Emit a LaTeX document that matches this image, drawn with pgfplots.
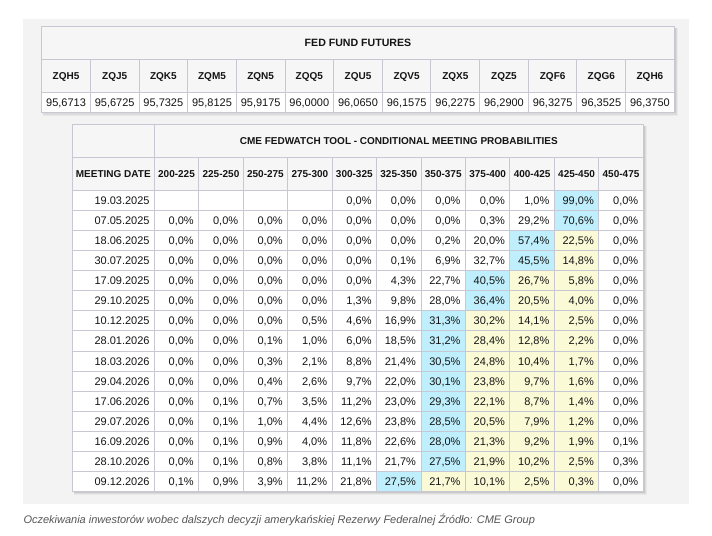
\documentclass[border=0pt]{standalone}
\usepackage{pgfplots}
\pgfplotsset{compat=1.18}
\usepackage{pgfplotstable}
\usepackage{fontspec}
\setmainfont{Liberation Sans}
\definecolor{pagebg}{RGB}{243,243,243}
\definecolor{hdrbg}{RGB}{246,246,246}
\definecolor{gridc}{RGB}{200,200,212}
\definecolor{cellblue}{RGB}{191,239,252}
\definecolor{cellyel}{RGB}{250,250,214}
\definecolor{txt}{RGB}{20,20,20}
\definecolor{capc}{RGB}{85,85,85}
\tikzset{
  gl/.style={draw=gridc, line width=1bp},
  hdr/.style={font=\fontsize{10bp}{12bp}\selectfont\bfseries, text=txt, inner sep=0pt, anchor=base},
  dat/.style={font=\fontsize{11bp}{13bp}\selectfont, text=txt, inner sep=0pt},
}

\pgfplotstableread{
c code v
0 ZQH5 95.6713
1 ZQJ5 95.6725
2 ZQK5 95.7325
3 ZQM5 95.8125
4 ZQN5 95.9175
5 ZQQ5 96.0000
6 ZQU5 96.0650
7 ZQV5 96.1575
8 ZQX5 96.2275
9 ZQZ5 96.2900
10 ZQF6 96.3275
11 ZQG6 96.3525
12 ZQH6 96.3750
}\futures

\pgfplotstableread{
c lbl
0 200-225
1 225-250
2 250-275
3 275-300
4 300-325
5 325-350
6 350-375
7 375-400
8 400-425
9 425-450
10 450-475
}\ranges

\pgfplotstableread{
r d
0 19.03.2025
1 07.05.2025
2 18.06.2025
3 30.07.2025
4 17.09.2025
5 29.10.2025
6 10.12.2025
7 28.01.2026
8 18.03.2026
9 29.04.2026
10 17.06.2026
11 29.07.2026
12 16.09.2026
13 28.10.2026
14 09.12.2026
}\dates

% c = rate column, r = meeting row, v = probability (%), k = cell class (0 white, 1 yellow, 2 blue)
\pgfplotstableread[row sep=\\]{
c r v k \\
0 0 0 0 \\ 1 0 0 0 \\ 2 0 0 0 \\ 3 0 0 0 \\ 4 0 0.0 0 \\ 5 0 0.0 0 \\ 6 0 0.0 0 \\ 7 0 0.0 0 \\ 8 0 1.0 0 \\ 9 0 99.0 2 \\ 10 0 0.0 0 \\
0 1 0.0 0 \\ 1 1 0.0 0 \\ 2 1 0.0 0 \\ 3 1 0.0 0 \\ 4 1 0.0 0 \\ 5 1 0.0 0 \\ 6 1 0.0 0 \\ 7 1 0.3 0 \\ 8 1 29.2 0 \\ 9 1 70.6 2 \\ 10 1 0.0 0 \\
0 2 0.0 0 \\ 1 2 0.0 0 \\ 2 2 0.0 0 \\ 3 2 0.0 0 \\ 4 2 0.0 0 \\ 5 2 0.0 0 \\ 6 2 0.2 0 \\ 7 2 20.0 0 \\ 8 2 57.4 2 \\ 9 2 22.5 1 \\ 10 2 0.0 0 \\
0 3 0.0 0 \\ 1 3 0.0 0 \\ 2 3 0.0 0 \\ 3 3 0.0 0 \\ 4 3 0.0 0 \\ 5 3 0.1 0 \\ 6 3 6.9 0 \\ 7 3 32.7 0 \\ 8 3 45.5 2 \\ 9 3 14.8 1 \\ 10 3 0.0 0 \\
0 4 0.0 0 \\ 1 4 0.0 0 \\ 2 4 0.0 0 \\ 3 4 0.0 0 \\ 4 4 0.0 0 \\ 5 4 4.3 0 \\ 6 4 22.7 0 \\ 7 4 40.5 2 \\ 8 4 26.7 1 \\ 9 4 5.8 1 \\ 10 4 0.0 0 \\
0 5 0.0 0 \\ 1 5 0.0 0 \\ 2 5 0.0 0 \\ 3 5 0.0 0 \\ 4 5 1.3 0 \\ 5 5 9.8 0 \\ 6 5 28.0 0 \\ 7 5 36.4 2 \\ 8 5 20.5 1 \\ 9 5 4.0 1 \\ 10 5 0.0 0 \\
0 6 0.0 0 \\ 1 6 0.0 0 \\ 2 6 0.0 0 \\ 3 6 0.5 0 \\ 4 6 4.6 0 \\ 5 6 16.9 0 \\ 6 6 31.3 2 \\ 7 6 30.2 1 \\ 8 6 14.1 1 \\ 9 6 2.5 1 \\ 10 6 0.0 0 \\
0 7 0.0 0 \\ 1 7 0.0 0 \\ 2 7 0.1 0 \\ 3 7 1.0 0 \\ 4 7 6.0 0 \\ 5 7 18.5 0 \\ 6 7 31.2 2 \\ 7 7 28.4 1 \\ 8 7 12.8 1 \\ 9 7 2.2 1 \\ 10 7 0.0 0 \\
0 8 0.0 0 \\ 1 8 0.0 0 \\ 2 8 0.3 0 \\ 3 8 2.1 0 \\ 4 8 8.8 0 \\ 5 8 21.4 0 \\ 6 8 30.5 2 \\ 7 8 24.8 1 \\ 8 8 10.4 1 \\ 9 8 1.7 1 \\ 10 8 0.0 0 \\
0 9 0.0 0 \\ 1 9 0.0 0 \\ 2 9 0.4 0 \\ 3 9 2.6 0 \\ 4 9 9.7 0 \\ 5 9 22.0 0 \\ 6 9 30.1 2 \\ 7 9 23.8 1 \\ 8 9 9.7 1 \\ 9 9 1.6 1 \\ 10 9 0.0 0 \\
0 10 0.0 0 \\ 1 10 0.1 0 \\ 2 10 0.7 0 \\ 3 10 3.5 0 \\ 4 10 11.2 0 \\ 5 10 23.0 0 \\ 6 10 29.3 2 \\ 7 10 22.1 1 \\ 8 10 8.7 1 \\ 9 10 1.4 1 \\ 10 10 0.0 0 \\
0 11 0.0 0 \\ 1 11 0.1 0 \\ 2 11 1.0 0 \\ 3 11 4.4 0 \\ 4 11 12.6 0 \\ 5 11 23.8 0 \\ 6 11 28.5 2 \\ 7 11 20.5 1 \\ 8 11 7.9 1 \\ 9 11 1.2 1 \\ 10 11 0.0 0 \\
0 12 0.0 0 \\ 1 12 0.1 0 \\ 2 12 0.9 0 \\ 3 12 4.0 0 \\ 4 12 11.8 0 \\ 5 12 22.6 0 \\ 6 12 28.0 2 \\ 7 12 21.3 1 \\ 8 12 9.2 1 \\ 9 12 1.9 1 \\ 10 12 0.1 0 \\
0 13 0.0 0 \\ 1 13 0.1 0 \\ 2 13 0.8 0 \\ 3 13 3.8 0 \\ 4 13 11.1 0 \\ 5 13 21.7 0 \\ 6 13 27.5 2 \\ 7 13 21.9 1 \\ 8 13 10.2 1 \\ 9 13 2.5 1 \\ 10 13 0.3 0 \\
0 14 0.1 0 \\ 1 14 0.9 0 \\ 2 14 3.9 0 \\ 3 14 11.2 0 \\ 4 14 21.8 0 \\ 5 14 27.5 2 \\ 6 14 21.7 1 \\ 7 14 10.1 1 \\ 8 14 2.5 1 \\ 9 14 0.3 1 \\ 10 14 0.0 0 \\
}\probs

\begin{document}
\begin{tikzpicture}
\begin{axis}[
  width=712bp, height=536bp, scale only axis,
  xmin=0, xmax=712, ymin=0, ymax=536, y dir=reverse,
  hide axis, clip=false, enlargelimits=false,
  colormap={cells}{color=(white) color=(cellyel) color=(cellblue)},
  point meta min=0, point meta max=2,
  /pgf/number format/assume math mode=true,
]
% page and grey panel
\fill[white] (axis cs:0,0) rectangle (axis cs:712,536);
\fill[pagebg] (axis cs:23,19) rectangle (axis cs:689,504);

% --- top table: shadow and fills
\fill[black,opacity=0.04] (axis cs:43,28) rectangle (axis cs:677.8,115.8);
\fill[black,opacity=0.06] (axis cs:43,28) rectangle (axis cs:676.6,114.6);
\fill[black,opacity=0.08] (axis cs:43,28) rectangle (axis cs:675.5,113.5);
\fill[hdrbg] (axis cs:41.7,26.3) rectangle (axis cs:674.3,92.3);
\fill[white] (axis cs:41.7,92.3) rectangle (axis cs:674.3,112.3);

% --- second table: shadow and fills
\fill[black,opacity=0.04] (axis cs:73.5,125.5) rectangle (axis cs:646.8,495.2);
\fill[black,opacity=0.06] (axis cs:73.5,125.5) rectangle (axis cs:645.6,494.0);
\fill[black,opacity=0.08] (axis cs:73.5,125.5) rectangle (axis cs:644.5,492.9);
\fill[hdrbg] (axis cs:72.3,124.3) rectangle (axis cs:643.3,190.3);
\fill[white] (axis cs:72.3,190.3) rectangle (axis cs:154.3,491.7);

% probability cells (colour class)
\addplot[matrix plot*, mesh/cols=11, point meta=explicit]
  table[x expr={176.525+44.45*\thisrow{c}}, y expr={200.345+20.09*\thisrow{r}}, meta=k]{\probs};

% --- grid lines, top table
\draw[gl] (axis cs:41.7,26.3) rectangle (axis cs:674.3,112.3);
\draw[gl] (axis cs:41.7,59.3) -- (axis cs:674.3,59.3);
\draw[gl] (axis cs:41.7,92.3) -- (axis cs:674.3,92.3);
\pgfplotsinvokeforeach{1,...,12}{\draw[gl] (axis cs:{41.7+48.66*#1},59.3) -- (axis cs:{41.7+48.66*#1},112.3);}

% --- grid lines, second table
\draw[gl] (axis cs:72.3,124.3) rectangle (axis cs:643.3,491.7);
\draw[gl] (axis cs:154.3,124.3) -- (axis cs:154.3,491.7);
\draw[gl] (axis cs:72.3,157.3) -- (axis cs:643.3,157.3);
\pgfplotsinvokeforeach{0,...,14}{\draw[gl] (axis cs:72.3,{190.3+20.09*#1}) -- (axis cs:643.3,{190.3+20.09*#1});}
\pgfplotsinvokeforeach{1,...,10}{\draw[gl] (axis cs:{154.3+44.45*#1},157.3) -- (axis cs:{154.3+44.45*#1},491.7);}

% --- titles
\node[hdr, font=\fontsize{10.6bp}{12bp}\selectfont\bfseries] at (axis cs:358,46.4) {FED FUND FUTURES};
\node[hdr] at (axis cs:398.8,144.4) {CME FEDWATCH TOOL - CONDITIONAL MEETING PROBABILITIES};
\node[hdr] at (axis cs:113.3,177.4) {MEETING DATE};

% futures codes
\addplot[draw=none, mark=none, point meta=explicit symbolic, nodes near coords,
  every node near coord/.append style={hdr}]
  table[x expr={66.03+48.66*\thisrow{c}}, y expr={79.4}, meta=code]{\futures};
% futures prices
\addplot[draw=none, mark=none, point meta=explicit,
  nodes near coords={\pgfmathprintnumber[fixed,fixed zerofill,precision=4,use comma]{\pgfplotspointmeta}},
  every node near coord/.append style={dat, anchor=base}]
  table[x expr={66.03+48.66*\thisrow{c}}, y expr={106.2}, meta=v]{\futures};

% rate range headers
\addplot[draw=none, mark=none, point meta=explicit symbolic, nodes near coords,
  every node near coord/.append style={hdr}]
  table[x expr={176.525+44.45*\thisrow{c}}, y expr={177.4}, meta=lbl]{\ranges};

% meeting dates
\addplot[draw=none, mark=none, point meta=explicit symbolic, nodes near coords,
  every node near coord/.append style={dat, anchor=base east}]
  table[x expr={149.8}, y expr={204.3+20.09*\thisrow{r}}, meta=d]{\dates};

% probabilities
\addplot[draw=none, mark=none, point meta=explicit, skip coords between index={0}{4},
  nodes near coords={\pgfmathprintnumber[fixed,fixed zerofill,precision=1,use comma]{\pgfplotspointmeta}\%},
  every node near coord/.append style={dat, anchor=base east}]
  table[x expr={154.3+44.45*(\thisrow{c}+1)-4.8}, y expr={204.3+20.09*\thisrow{r}}, meta=v]{\probs};

% caption
\node[anchor=base west, inner sep=0pt, text=capc, font=\fontsize{11bp}{13bp}\selectfont\itshape]
  at (axis cs:23.3,523) {Oczekiwania inwestorów wobec dalszych decyzji amerykańskiej Rezerwy Federalnej Źródło: CME Group};
\end{axis}
\end{tikzpicture}
\end{document}
